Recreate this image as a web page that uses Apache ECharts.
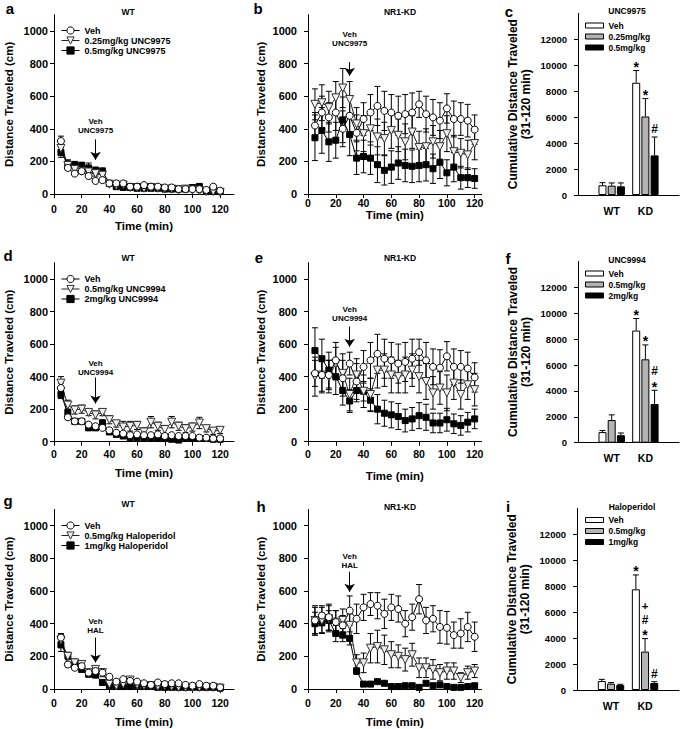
<!DOCTYPE html>
<html><head><meta charset="utf-8">
<script src="https://cdn.jsdelivr.net/npm/echarts@6.0.0/dist/echarts.min.js"></script>
<style>html,body{margin:0;padding:0;background:#fff}#c{width:685px;height:729px}</style>
</head><body><div id="c"></div>
<script>
// ---------------- DATA ----------------
const times = [5,10,15,20,25,30,35,40,45,50,55,60,65,70,75,80,85,90,95,100,105,110,115,120];
const xTicks = [0,20,40,60,80,100,120];
const yTicksLine = [0,200,400,600,800,1000];
const yTicksBar = [0,2000,4000,6000,8000,10000,12000];
const barGroups = ['WT','KD'];

const namesUNC9975 = ['Veh','0.25mg/kg UNC9975','0.5mg/kg UNC9975'];
const namesUNC9994 = ['Veh','0.5mg/kg UNC9994','2mg/kg UNC9994'];
const namesHAL = ['Veh','0.5mg/kg Haloperidol','1mg/kg Haloperidol'];
const barNamesC = ['Veh','0.25mg/kg','0.5mg/kg'];
const barNamesF = ['Veh','0.5mg/kg','2mg/kg'];
const barNamesI = ['Veh','0.5mg/kg','1mg/kg'];

// a: WT, UNC9975
const aVeh  = [325,160,125,140,110,80,85,65,65,65,45,45,55,45,45,40,40,30,30,30,30,25,45,20];
const aVehErr=[30,15,12,12,10,10,10,8,10,10,8,8,8,8,8,8,8,8,8,8,8,8,10,8];
const aLow  = [280,175,150,140,135,125,115,60,50,55,40,40,35,40,35,30,30,25,30,25,20,15,15,10];
const aLowErr=[40,20,15,15,15,15,15,10,10,10,8,8,8,8,8,8,8,8,8,8,8,8,8,8];
const aHigh = [255,185,180,175,160,145,140,65,45,40,40,35,35,35,35,30,30,30,30,40,45,20,20,15];
const aHighErr=[30,25,20,20,30,20,20,10,10,10,8,8,8,8,8,8,8,8,10,15,20,10,8,8];
// b: NR1-KD, UNC9975
const bVeh  = [420,500,470,500,400,480,375,460,500,540,510,500,480,490,500,550,490,470,450,525,460,460,450,395];
const bVehErr=[80,100,90,110,110,120,110,100,110,120,120,110,120,120,120,80,110,110,110,90,110,100,100,90];
const bLow  = [550,560,530,590,650,580,430,370,400,350,340,390,360,320,380,285,290,320,290,370,260,250,240,310];
const bLowErr=[95,110,100,100,120,110,100,110,100,110,100,110,100,110,100,100,110,100,100,110,100,90,90,100];
const bHigh = [345,390,320,330,455,365,220,230,220,180,145,165,190,175,170,175,180,155,195,130,165,100,100,95];
const bHighErr=[140,140,120,110,140,130,100,100,100,110,90,100,100,100,100,100,100,90,100,80,90,70,60,60];
// d: WT, UNC9994
const dVeh  = [330,150,125,125,105,95,85,70,55,50,40,45,40,40,45,35,40,35,35,35,25,25,20,20];
const dVehErr=[30,15,12,12,10,10,10,10,8,8,8,8,8,8,8,8,8,8,8,8,8,8,8,8];
const dLow  = [360,225,195,200,180,165,180,135,110,90,95,100,60,120,95,75,120,95,80,90,115,80,65,70];
const dLowErr=[40,30,25,25,20,25,20,25,20,35,30,25,25,35,25,25,35,25,25,25,35,20,20,20];
const dHigh = [290,180,125,125,85,85,115,60,45,35,25,25,25,20,20,20,15,10,25,20,20,20,15,15];
const dHighErr=[25,20,15,15,15,15,20,10,10,8,8,8,8,8,8,8,8,8,8,8,8,8,8,8];
// e: NR1-KD, UNC9994
const eVeh  = [420,410,410,500,390,480,370,460,500,540,510,500,480,490,510,550,500,460,455,525,460,460,450,395];
const eVehErr=[80,100,90,110,110,70,110,100,110,120,120,110,120,120,120,80,110,110,110,90,110,100,100,90];
const eLow  = [400,410,400,480,420,290,410,310,290,440,440,410,400,410,440,400,370,300,330,300,360,290,350,320];
const eLowErr=[120,110,100,100,120,100,100,100,100,110,100,110,100,110,100,100,110,100,100,110,100,90,90,100];
const eHigh = [560,510,440,400,315,250,315,310,255,200,175,165,155,130,140,160,150,115,115,135,110,100,120,140];
const eHighErr=[140,120,110,110,90,70,70,60,70,90,80,80,80,70,70,80,80,60,60,70,60,60,60,60];
// g: WT, Haloperidol
const gVeh  = [315,150,130,140,100,110,100,75,45,60,50,45,35,25,40,30,35,35,25,20,30,20,20,10];
const gVehErr=[25,15,12,12,10,12,12,10,8,8,8,8,8,8,8,8,8,8,8,8,8,8,8,8];
const gLow  = [300,200,160,150,100,120,100,30,20,30,55,25,20,20,15,20,15,10,10,10,10,10,10,5];
const gLowErr=[35,20,15,15,15,20,25,10,8,8,10,8,8,8,8,8,8,8,8,8,8,8,8,8];
const gHigh = [270,205,165,120,90,85,40,20,15,15,15,20,15,15,10,10,10,10,10,10,10,10,10,5];
const gHighErr=[40,20,15,15,12,15,10,8,8,8,8,8,8,8,8,8,8,8,8,8,8,8,8,8];
// h: NR1-KD, Haloperidol
const hVeh  = [420,450,440,410,390,480,430,500,520,510,460,500,490,400,440,550,420,430,380,375,330,340,380,320];
const hVehErr=[90,60,80,70,60,90,90,80,70,80,90,80,80,80,80,90,80,80,100,100,80,90,90,90];
const hLow  = [420,420,430,410,420,390,160,160,250,260,240,210,200,180,210,130,130,120,100,110,110,70,100,110];
const hLowErr=[80,80,80,70,70,70,50,60,90,100,90,80,70,70,70,60,60,60,50,50,50,30,40,40];
const hHigh = [400,405,420,340,330,310,110,30,30,45,35,15,15,20,20,10,35,20,25,15,10,10,15,20];
const hHighErr=[70,60,60,50,40,40,20,10,10,10,10,8,8,8,8,8,10,8,8,8,8,8,8,8];

// bar panels: [WT, KD]
const cVeh=[750,8650], cLow=[720,6050], cHigh=[670,3050];
const cVehErr=[200,940], cLowErr=[210,1380], cHighErr=[260,1420];
const cSigKD=['*','*','#'];          // significance marks, bottom to top
const fVeh=[820,8660], fLow=[1750,6440], fHigh=[580,2990];
const fVehErr=[120,930], fLowErr=[400,1110], fHighErr=[170,1060];
const fSigKD=['*','*','*#'];
const iVeh=[690,7760], iLow=[490,2960], iHigh=[380,540];
const iVehErr=[130,1110], iLowErr=[80,1000], iHighErr=[60,100];
const iSigKD=['*','*#+','#'];

// injection annotation (data units)
const injTime = 30;

// ---------------- STYLE / LAYOUT ----------------
const FONT = '"Liberation Sans", Arial, Helvetica, sans-serif';
const BAR_W = 8, BAR_GAP = 0.15;
const markerStyles = [
  {symbol:'circle', symbolSize:7, symbolRotate:0, itemStyle:{color:'#fff', borderColor:'#000', borderWidth:1}, lineStyle:{color:'#000', width:1}},
  {symbol:'triangle', symbolSize:8, symbolRotate:180, itemStyle:{color:'#f0f0f0', borderColor:'#333', borderWidth:1}, lineStyle:{color:'#222', width:1}},
  {symbol:'rect', symbolSize:6, symbolRotate:0, itemStyle:{color:'#000', borderColor:'#000', borderWidth:1}, lineStyle:{color:'#000', width:1}}
];
const barColors = ['#ffffff','#b4b4b4','#000000'];
const plain = v => String(v);
const sigFont = {'*':14, '#':12, '+':11.5};

const linePanels = [
  {grid:{left:54, top:14.7, width:180, height:179.3}, xMax:130, xFont:10.5, xMargin:9, xNameGap:26, yNameGap:39, yMargin:6,
   sets:[[aVeh,aVehErr],[aLow,aLowErr],[aHigh,aHighErr]], names:namesUNC9975, note:'Veh\nUNC9975', noteY:420, arrow:[335,210],
   legend:{left:61, top:26}},
  {grid:{left:308, top:14.7, width:173.6, height:179.3}, xMax:125, xFont:10.5, xMargin:3, xNameGap:10, yNameGap:41, yMargin:11,
   sets:[[bVeh,bVehErr],[bLow,bLowErr],[bHigh,bHighErr]], names:namesUNC9975, note:'Veh\nUNC9975', noteY:950, arrow:[810,725]},
  {grid:{left:54, top:262.7, width:180, height:179}, xMax:130, xFont:10.5, xMargin:7, xNameGap:25, yNameGap:39, yMargin:6,
   sets:[[dVeh,dVehErr],[dLow,dLowErr],[dHigh,dHighErr]], names:namesUNC9994, note:'Veh\nUNC9994', noteY:453, arrow:[395,235],
   legend:{left:61, top:274.5}},
  {grid:{left:308, top:262.7, width:173.6, height:179}, xMax:125, xFont:10.5, xMargin:7, xNameGap:28, yNameGap:41, yMargin:11,
   sets:[[eVeh,eVehErr],[eLow,eLowErr],[eHigh,eHighErr]], names:namesUNC9994, note:'Veh\nUNC9994', noteY:783, arrow:[708,583]},
  {grid:{left:54, top:509.4, width:180, height:179.6}, xMax:130, xFont:10.5, xMargin:8, xNameGap:27, yNameGap:39, yMargin:6,
   sets:[[gVeh,gVehErr],[gLow,gLowErr],[gHigh,gHighErr]], names:namesHAL, note:'Veh\nHAL', noteY:383, arrow:[315,162],
   legend:{left:61, top:521}},
  {grid:{left:308, top:509.4, width:173.6, height:179.6}, xMax:125, xFont:10.5, xMargin:8, xNameGap:27, yNameGap:41, yMargin:11,
   sets:[[hVeh,hVehErr],[hLow,hLowErr],[hHigh,hHighErr]], names:namesHAL, note:'Veh\nHAL', noteY:785, arrow:[719,595]}
];
const barPanels = [
  {grid:{left:578, top:13.3, width:105, height:181.7}, sets:[[cVeh,cVehErr],[cLow,cLowErr],[cHigh,cHighErr]], sig:cSigKD, names:barNamesC, legend:{left:585, top:21}},
  {grid:{left:578, top:261.4, width:105, height:181.3}, sets:[[fVeh,fVehErr],[fLow,fLowErr],[fHigh,fHighErr]], sig:fSigKD, names:barNamesF, legend:{left:585, top:269}},
  {grid:{left:577, top:508.4, width:106, height:181.6}, sets:[[iVeh,iVehErr],[iLow,iLowErr],[iHigh,iHighErr]], sig:iSigKD, names:barNamesI, legend:{left:585, top:515.5}}
];

const boldText = (size) => ({fontSize:size, fontWeight:'bold', color:'#000', fontFamily:FONT});

function errRender(params, api) {
  const x = api.value(0), y = api.value(1), e = api.value(2);
  const t = api.coord([x, y + e]), b = api.coord([x, Math.max(0, y - e)]);
  const w = 3, st = {stroke:'#000', lineWidth:1};
  return {type:'group', children:[
    {type:'line', shape:{x1:t[0], y1:t[1], x2:b[0], y2:b[1]}, style:st},
    {type:'line', shape:{x1:t[0]-w, y1:t[1], x2:t[0]+w, y2:t[1]}, style:st},
    {type:'line', shape:{x1:b[0]-w, y1:b[1], x2:b[0]+w, y2:b[1]}, style:st}
  ]};
}
function makeBarErr(sigs) {
  return function (params, api) {
    const cat = api.value(0), v = api.value(1), e = api.value(2), k = api.value(3);
    const off = (k - 1) * BAR_W * (1 + BAR_GAP);
    const b = api.coord([cat, v]), t = api.coord([cat, v + e]);
    const x = b[0] + off, st = {stroke:'#000', lineWidth:1};
    const ch = [
      {type:'line', shape:{x1:x, y1:b[1], x2:x, y2:t[1]}, style:st},
      {type:'line', shape:{x1:x-3, y1:t[1], x2:x+3, y2:t[1]}, style:st}
    ];
    const s = sigs[params.dataIndex] || '';
    let vis = t[1];
    for (let n = 0; n < s.length; n++) {
      const c = s[n];
      if (n === 0) vis -= (c === '*' ? 7 : 8);
      else vis -= (s[n - 1] === '*' ? 12 : 14);
      ch.push({type:'text', x:x, y: vis + (c === '*' ? 3.3 : 0),
        style:{text:c, font:'bold ' + sigFont[c] + 'px ' + FONT, fill:'#000', textAlign:'center', textVerticalAlign:'middle'}});
    }
    return {type:'group', children:ch};
  };
}

const grid = [], xAxis = [], yAxis = [], legend = [];
const lineSeries = [], errSeries = [], barSeries = [];

linePanels.forEach((p, gi) => {
  grid.push(p.grid);
  xAxis.push({type:'value', gridIndex:gi, min:0, max:p.xMax,
    axisLine:{show:true, onZero:false, lineStyle:{color:'#000', width:1}},
    axisTick:{show:true, length:4, customValues:xTicks, lineStyle:{color:'#000'}},
    axisLabel:Object.assign({customValues:xTicks, margin:p.xMargin, formatter:plain}, boldText(p.xFont)),
    splitLine:{show:false},
    name:'Time (min)', nameLocation:'middle', nameGap:p.xNameGap, nameTextStyle:boldText(11.5)});
  yAxis.push({type:'value', gridIndex:gi, min:0, max:1100,
    axisLine:{show:true, lineStyle:{color:'#000', width:1}},
    axisTick:{show:true, length:4, customValues:yTicksLine, lineStyle:{color:'#000'}},
    axisLabel:Object.assign({customValues:yTicksLine, margin:p.yMargin, formatter:plain}, boldText(11)),
    splitLine:{show:false},
    name:'Distance Traveled (cm)', nameLocation:'middle', nameRotate:90, nameGap:p.yNameGap, nameTextStyle:boldText(11.5)});
  p.sets.forEach((set) => {
    errSeries.push({type:'custom', xAxisIndex:gi, yAxisIndex:gi, z:1, silent:true, renderItem:errRender,
      encode:{x:0, y:1}, data: times.map((t, j) => [t, set[0][j], set[1][j]])});
  });
  [2,1,0].forEach(k => {
    const ms = markerStyles[k];
    const s = {type:'line', name:p.names[k], xAxisIndex:gi, yAxisIndex:gi, z:3, silent:true,
      symbol:ms.symbol, symbolSize:ms.symbolSize, symbolRotate:ms.symbolRotate, showAllSymbol:true,
      itemStyle:ms.itemStyle, lineStyle:ms.lineStyle,
      data: times.map((t, j) => [t, p.sets[k][0][j]])};
    if (k === 0) {
      s.markLine = {silent:true, symbol:['none','arrow'], symbolSize:8, label:{show:false},
        lineStyle:{color:'#000', width:1, type:'solid'},
        data:[[{coord:[injTime, p.arrow[0]]}, {coord:[injTime, p.arrow[1]]}]]};
      s.markPoint = {silent:true, symbol:'rect', symbolSize:1, itemStyle:{color:'rgba(0,0,0,0)'},
        label:Object.assign({show:true, position:'inside', formatter:p.note, lineHeight:9}, boldText(8)),
        data:[{coord:[injTime, p.noteY]}]};
    }
    lineSeries.push(s);
  });
  if (p.legend) {
    legend.push({left:p.legend.left, top:p.legend.top, orient:'vertical', padding:0, itemGap:1,
      itemWidth:18, itemHeight:9, selectedMode:false, data:p.names,
      lineStyle:{width:1}, itemStyle:{borderWidth:1},
      textStyle:boldText(9)});
  }
});

barPanels.forEach((p, bi) => {
  const gi = linePanels.length + bi;
  grid.push(p.grid);
  xAxis.push({type:'category', gridIndex:gi, data:[' ', ...barGroups, '  '], boundaryGap:false,
    axisLine:{show:true, onZero:false, lineStyle:{color:'#000', width:1}},
    axisTick:{show:false},
    axisLabel:Object.assign({interval:0, margin:10}, boldText(10.5))});
  yAxis.push({type:'value', gridIndex:gi, min:0, max:14000,
    axisLine:{show:true, lineStyle:{color:'#000', width:1}},
    axisTick:{show:true, length:4, customValues:yTicksBar, lineStyle:{color:'#000'}},
    axisLabel:Object.assign({customValues:yTicksBar, margin:11, formatter:plain}, boldText(9.5)),
    splitLine:{show:false},
    name:'Cumulative Distance Traveled\n(31-120 min)', nameLocation:'middle', nameRotate:90, nameGap:46,
    nameTextStyle:Object.assign({lineHeight:12.5}, boldText(12))});
  const errData = [], sigs = [];
  p.sets.forEach((set, k) => {
    barSeries.push({type:'bar', name:p.names[k], xAxisIndex:gi, yAxisIndex:gi, silent:true,
      barWidth:BAR_W, barGap:(BAR_GAP * 100) + '%',
      itemStyle:{color:barColors[k], borderColor:'#000', borderWidth:1},
      data:['-', ...set[0], '-']});
    set[0].forEach((v, j) => {
      errData.push([j + 1, v, set[1][j], k]);
      sigs.push(barGroups[j] === 'KD' ? p.sig[k] : '');
    });
  });
  barSeries.push({type:'custom', xAxisIndex:gi, yAxisIndex:gi, z:4, silent:true,
    renderItem:makeBarErr(sigs), encode:{x:0, y:1}, data:errData});
  legend.push({left:p.legend.left, top:p.legend.top, orient:'vertical', padding:0, itemGap:2,
    itemWidth:18, itemHeight:5, icon:'rect', selectedMode:false,
    data:p.names.map((n, k) => ({name:n, icon:'rect', itemStyle:{color:barColors[k], borderColor:'#000', borderWidth:1}})),
    textStyle:boldText(8.5)});
});

const labels = [
  ['a',10,8,15],['b',258,8,15],['c',509,11,15],
  ['d',8,255,15],['e',259,257,15],['f',508,258,15],
  ['g',8,500,15],['h',261,506,15],['i',508,506,15],
  ['WT',128,12,8.5],['NR1-KD',400,12,8.5],['UNC9975',627,11,8.5],
  ['WT',128,258,8.5],['NR1-KD',400,258,8.5],['UNC9994',627,260,8.5],
  ['WT',128,504,8.5],['NR1-KD',400,507,8.5],['Haloperidol',632,507,8.5]
];
const graphic = labels.map(l => ({type:'text', x:l[1], y:l[2], silent:true,
  style:{text:l[0], font:'bold ' + l[3] + 'px ' + FONT, fill:'#000', textAlign:'center', textVerticalAlign:'middle'}}));

const chart = echarts.init(document.getElementById('c'), null, {renderer:'svg', width:685, height:729});
chart.setOption({
  animation:false, backgroundColor:'#fff',
  grid, xAxis, yAxis, legend, graphic,
  series:[...lineSeries, ...errSeries, ...barSeries]
});
</script></body></html>
